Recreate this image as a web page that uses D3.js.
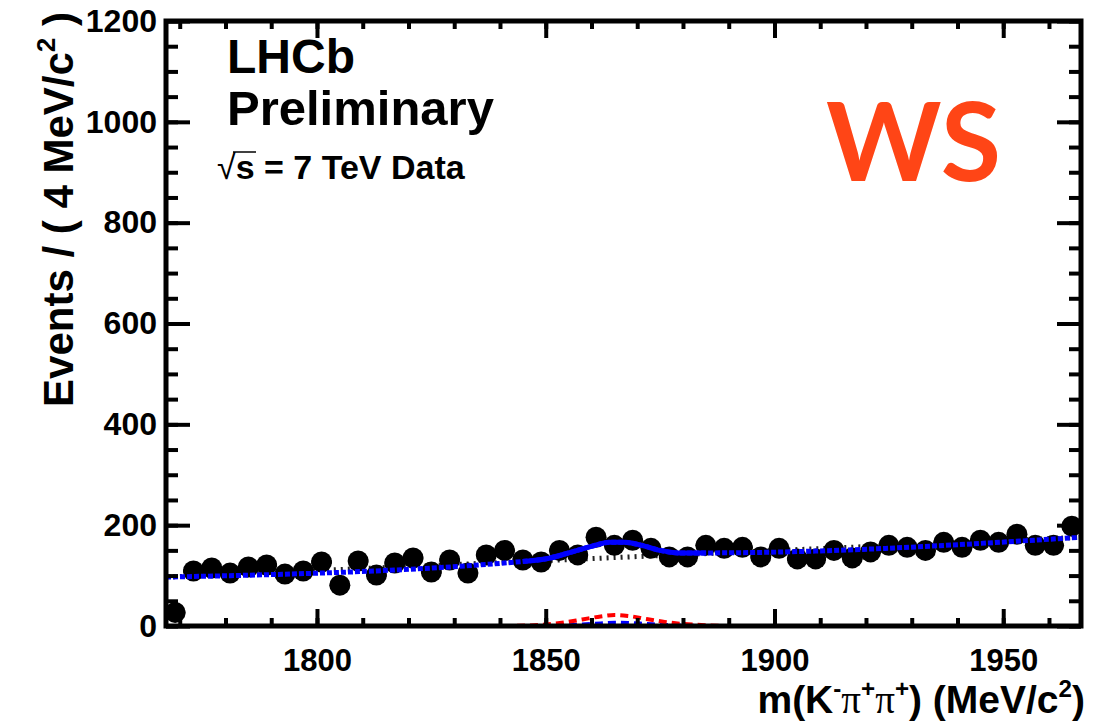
<!DOCTYPE html>
<html>
<head>
<meta charset="utf-8">
<script src="https://cdn.jsdelivr.net/npm/d3@7"></script>
<style>
  body { margin: 0; background: #fff; }
  text { font-family: "Liberation Sans", Arial, sans-serif; font-weight: bold; fill: #000; }
</style>
</head>
<body>
<svg id="chart" width="1102" height="722"></svg>
<script>
// bin centres (MeV/c^2), 4 MeV bins
var binCenters = [1769, 1773, 1777, 1781, 1785, 1789, 1793, 1797, 1801, 1805,
                  1809, 1813, 1817, 1821, 1825, 1829, 1833, 1837, 1841, 1845,
                  1849, 1853, 1857, 1861, 1865, 1869, 1873, 1877, 1881, 1885,
                  1889, 1893, 1897, 1901, 1905, 1909, 1913, 1917, 1921, 1925,
                  1929, 1933, 1937, 1941, 1945, 1949, 1953, 1957, 1961, 1965];
// events per bin
var counts = [27, 109, 115, 105, 117, 121, 103, 109, 127, 81,
              129, 101, 125, 135, 107, 131, 105, 141, 150, 131,
              127, 150, 141, 176, 160, 170, 154, 137, 137, 160,
              154, 156, 137, 154, 133, 133, 150, 135, 147, 160,
              156, 150, 166, 156, 170, 166, 182, 160, 160, 198];

// total fit (blue)
var fitMass  = [1767, 1845, 1851, 1855, 1860, 1864, 1867, 1871, 1875, 1879, 1885, 1967];
var fitTotal = [97, 128, 135, 145, 158, 166, 166, 160, 150, 145, 145, 176];
// combinatorial background (black dotted)
var bkgMass   = [1767, 1967];
var bkgValues = [97, 176];
// signal components (red and blue dashed)
var compMass = [1767, 1840, 1846, 1850, 1854, 1858, 1862, 1865, 1868, 1872, 1876, 1880, 1884, 1890, 1967];
var compRed  = [0, 0, 1, 3, 7, 13, 19, 22, 20, 14, 8, 4, 2, 0, 0];
var compBlue = [0, 0, 0, 0, 1, 3, 5, 6.5, 6, 4, 2, 1, 0, 0, 0];

var xTicks = [1800, 1850, 1900, 1950];
var yTicks = [0, 200, 400, 600, 800, 1000, 1200];

// set the dimensions and margins of the graph
var margin = {top: 21, right: 21, bottom: 96, left: 166},
    width = 1102 - margin.left - margin.right,
    height = 722 - margin.top - margin.bottom;

var x = d3.scaleLinear().domain([1767, 1967]).range([0, width]);
var y = d3.scaleLinear().domain([0, 1200]).range([height, 0]);

var svg = d3.select("#chart")
  .append("g")
    .attr("transform", "translate(" + margin.left + "," + margin.top + ")");

svg.append("clipPath").attr("id", "plotclip")
  .append("rect").attr("width", width).attr("height", height);

var plot = svg.append("g").attr("clip-path", "url(#plotclip)");

function zip(a, b) { return a.map(function(v, i) { return [v, b[i]]; }); }

var curve = d3.line()
  .curve(d3.curveMonotoneX)
  .x(function(d) { return x(d[0]); })
  .y(function(d) { return y(d[1]); });

// signal components
plot.append("path")
  .datum(zip(compMass, compBlue))
  .attr("d", curve).attr("fill", "none")
  .attr("stroke", "#0000ff").attr("stroke-width", 4)
  .attr("stroke-dasharray", "8,5");
plot.append("path")
  .datum(zip(compMass, compRed))
  .attr("d", curve).attr("fill", "none")
  .attr("stroke", "#ff0000").attr("stroke-width", 4)
  .attr("stroke-dasharray", "8,5");

// background
plot.append("path")
  .datum(zip(bkgMass, bkgValues))
  .attr("d", curve).attr("fill", "none")
  .attr("stroke", "#222").attr("stroke-width", 5)
  .attr("stroke-dasharray", "2,5");

// data points with error bars
var pts = plot.selectAll(".pt")
  .data(zip(binCenters, counts))
  .enter().append("g").attr("class", "pt");
pts.append("line")
  .attr("x1", function(d) { return x(d[0] - 2.2); })
  .attr("x2", function(d) { return x(d[0] + 2.2); })
  .attr("y1", function(d) { return y(d[1]); })
  .attr("y2", function(d) { return y(d[1]); })
  .attr("stroke", "#000").attr("stroke-width", 4);
pts.append("line")
  .attr("x1", function(d) { return x(d[0]); })
  .attr("x2", function(d) { return x(d[0]); })
  .attr("y1", function(d) { return y(d[1] - Math.sqrt(d[1])); })
  .attr("y2", function(d) { return y(d[1] + Math.sqrt(d[1])); })
  .attr("stroke", "#000").attr("stroke-width", 4);
pts.append("circle")
  .attr("cx", function(d) { return x(d[0]); })
  .attr("cy", function(d) { return y(d[1]); })
  .attr("r", 10.5)
  .attr("fill", "#000");

// total fit: dotted where flat, solid over the peak
var fitPts = zip(fitMass, fitTotal);
plot.append("path")
  .datum(fitPts)
  .attr("d", curve).attr("fill", "none")
  .attr("stroke", "#0000ff").attr("stroke-width", 5)
  .attr("stroke-dasharray", "5,2");
plot.append("path")
  .datum(fitPts.filter(function(d) { return d[0] >= 1845 && d[0] <= 1885; }))
  .attr("d", curve).attr("fill", "none")
  .attr("stroke", "#0000ff").attr("stroke-width", 5);

// axes, ticks pointing inwards on all four sides
function styleAxis(g, fontSize) {
  g.select(".domain").remove();
  g.selectAll(".tick line").attr("stroke", "#000").attr("stroke-width", 4);
  g.selectAll(".tick text")
    .style("font-family", '"Liberation Sans", Arial, sans-serif')
    .style("font-weight", "bold")
    .style("font-size", fontSize + "px")
    .attr("fill", "#000");
}

var xMinor = d3.range(1770, 1961, 10);
var yMinor = d3.range(0, 1201, 50);

svg.append("g").attr("transform", "translate(0," + height + ")")
  .call(d3.axisBottom(x).tickValues(xMinor).tickSize(-8).tickFormat(""))
  .call(styleAxis, 31);
svg.append("g").attr("transform", "translate(0," + height + ")")
  .call(d3.axisBottom(x).tickValues(xTicks).tickSize(-17).tickPadding(23).tickFormat(d3.format("d")))
  .call(styleAxis, 31);
svg.append("g")
  .call(d3.axisTop(x).tickValues(xMinor).tickSize(-8).tickFormat(""))
  .call(styleAxis, 31);
svg.append("g")
  .call(d3.axisTop(x).tickValues(xTicks).tickSize(-17).tickFormat(""))
  .call(styleAxis, 31);

svg.append("g")
  .call(d3.axisLeft(y).tickValues(yMinor).tickSize(-12).tickFormat(""))
  .call(styleAxis, 32);
svg.append("g")
  .call(d3.axisLeft(y).tickValues(yTicks).tickSize(-24).tickPadding(9).tickFormat(d3.format("d")))
  .call(styleAxis, 32);
svg.append("g").attr("transform", "translate(" + width + ",0)")
  .call(d3.axisRight(y).tickValues(yMinor).tickSize(-12).tickFormat(""))
  .call(styleAxis, 32);
svg.append("g").attr("transform", "translate(" + width + ",0)")
  .call(d3.axisRight(y).tickValues(yTicks).tickSize(-24).tickFormat(""))
  .call(styleAxis, 32);

// frame
svg.append("rect")
  .attr("width", width).attr("height", height)
  .attr("fill", "none").attr("stroke", "#000").attr("stroke-width", 5);

// rich text with superscripts and serif pi
function richText(sel, parts, fontSize) {
  var shift = fontSize * 0.42, up = false;
  parts.forEach(function(p) {
    var t = sel.append("tspan").text(p.t);
    if (p.sup && !up) { t.attr("dy", -shift); up = true; }
    else if (!p.sup && up) { t.attr("dy", shift); up = false; }
    if (p.sup) t.style("font-size", (fontSize * 0.62) + "px");
    if (p.serif) t.style("font-family", '"Liberation Serif", serif').style("font-weight", "normal");
  });
}

// x axis title
var xt = svg.append("text")
  .attr("x", width + 4).attr("y", height + 87)
  .attr("text-anchor", "end")
  .style("font-size", "39px");
richText(xt, [
  {t: "m(K"}, {t: "-", sup: true}, {t: "\u03c0", serif: true}, {t: "+", sup: true},
  {t: "\u03c0", serif: true}, {t: "+", sup: true}, {t: ") (MeV/c"}, {t: "2", sup: true}, {t: ")"}
], 39);

// y axis title
var yt = svg.append("text")
  .attr("transform", "translate(" + (73 - margin.left) + "," + (12 - margin.top) + ") rotate(-90)")
  .attr("text-anchor", "end")
  .style("font-size", "42px");
richText(yt, [{t: "Events / ( 4 MeV/c"}, {t: "2", sup: true}, {t: " )"}], 42);

// labels
var ann = d3.select("#chart").append("g");
ann.append("text").attr("x", 227).attr("y", 73).style("font-size", "48px").text("LHCb");
ann.append("text").attr("x", 227).attr("y", 125).style("font-size", "49px").text("Preliminary");
var rs = ann.append("text").attr("x", 217).attr("y", 179).style("font-size", "34px");
rs.append("tspan").text("\u221a").style("font-weight", "normal");
rs.append("tspan").text("s = 7 TeV Data");
ann.append("line")
  .attr("x1", 233).attr("x2", 256).attr("y1", 152).attr("y2", 152)
  .attr("stroke", "#000").attr("stroke-width", 1.5);

ann.append("text").attr("x", 826).attr("y", 181)
  .style("font-family", "Lato, 'Open Sans', sans-serif")
  .style("font-size", "110px")
  .style("fill", "#ff4516")
  .text("WS");
</script>
</body>
</html>
